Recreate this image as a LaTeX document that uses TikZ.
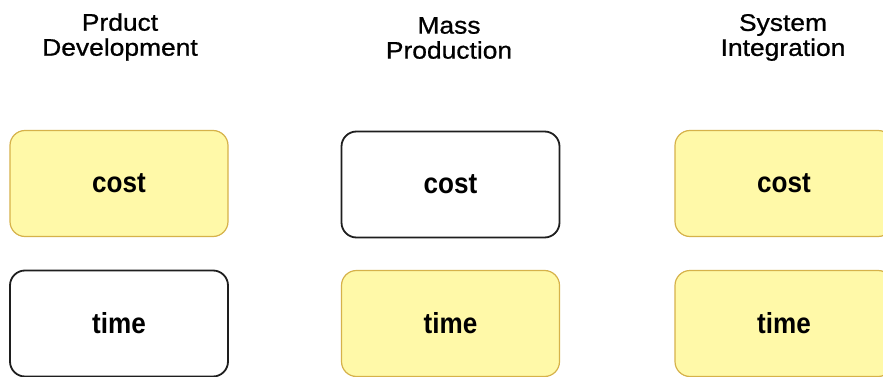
\documentclass[tikz,border=0pt]{standalone}
\usepackage{fontspec}
\setmainfont{Liberation Sans}
\newfontfamily\titlefont[FakeStretch=1.1,FakeBold=0.8]{Liberation Sans}
\newfontfamily\boxfont[FakeStretch=0.9]{Liberation Sans}
\definecolor{hlfill}{RGB}{255,249,168}
\definecolor{hldraw}{RGB}{214,178,74}
\definecolor{plaindraw}{RGB}{30,30,30}
\tikzset{
  box/.style={rounded corners=15pt, minimum width=218pt, minimum height=106pt,
    inner sep=0pt, font=\boxfont\fontsize{29}{30}\selectfont\bfseries},
  hlbox/.style={box, fill=hlfill, draw=hldraw, line width=1.2pt},
  plainbox/.style={box, fill=white, draw=plaindraw, line width=1.8pt},
  title/.style={align=center, font=\titlefont\fontsize{24}{25}\selectfont, inner sep=0pt}
}
\begin{document}
\begin{tikzpicture}[x=1pt,y=-1pt]
\clip (0,0) rectangle (883,377);
\fill[white] (0,0) rectangle (883,377);
\node[title] (t1) at (120,37) {Prduct\\Development};
\node[title] (t2) at (449,38) {Mass\\Production};
\node[title] (t3) at (783,37.5) {System\\Integration};
\node[hlbox] (c1) at (119,183.5) {cost};
\node[plainbox] (tm1) at (119,323.5) {time};
\node[plainbox] (c2) at (450.5,184.5) {cost};
\node[hlbox] (tm2) at (450.5,323.5) {time};
\node[hlbox] (c3) at (784,183.5) {cost};
\node[hlbox] (tm3) at (784,323.5) {time};
\end{tikzpicture}
\end{document}
